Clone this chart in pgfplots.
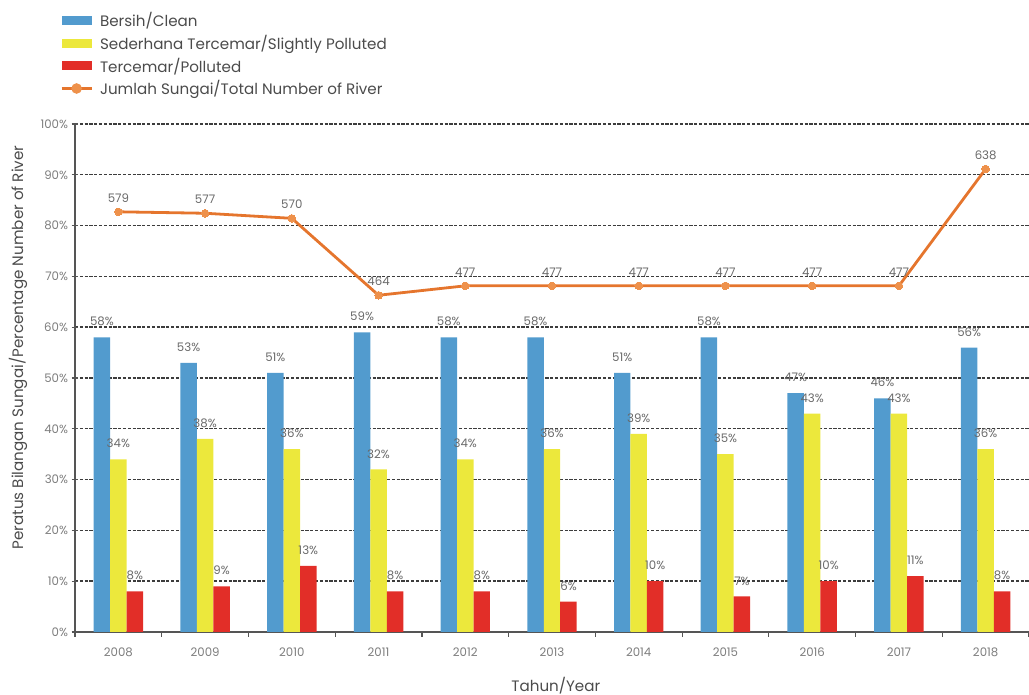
\documentclass[border=0pt]{standalone}
\usepackage{fontspec}
\setmainfont{Poppins}
\usepackage{pgfplots}
\pgfplotsset{compat=1.18}
\usepackage{pgfplotstable}

\definecolor{clean}{RGB}{82,155,206}
\definecolor{slight}{RGB}{236,232,60}
\definecolor{polluted}{RGB}{226,46,40}
\definecolor{lineorange}{RGB}{229,117,45}
\definecolor{markorange}{RGB}{238,145,75}
\definecolor{axisgray}{RGB}{85,85,85}
\definecolor{gridgray}{RGB}{60,60,60}
\definecolor{tickgray}{RGB}{125,125,125}
\definecolor{labelgray}{RGB}{105,105,105}
\definecolor{titlegray}{RGB}{75,75,75}

% River water quality by year (percent of rivers) and number of rivers monitored
\pgfplotstableread{
idx year clean slight polluted total
0  2008 58 34 8  579
1  2009 53 38 9  577
2  2010 51 36 13 570
3  2011 59 32 8  464
4  2012 58 34 8  477
5  2013 58 36 6  477
6  2014 51 39 10 477
7  2015 58 35 7  477
8  2016 47 43 10 477
9  2017 46 43 11 477
10 2018 56 36 8  638
}\rivers

\pgfplotsset{
  barleg/.style={legend image code/.code={\fill[##1] (0bp,-4.5bp) rectangle (30bp,4.5bp);}},
  lineleg/.style={legend image code/.code={%
      \draw[##1] (0bp,0bp) -- (30bp,0bp);
      \fill[markorange] (15bp,0bp) circle (3.8bp);}},
  frame/.style={
    at={(0,0)}, anchor=south west,
    width=954bp, height=508bp, scale only axis,
    xmin=-0.5, xmax=10.5,
    /pgf/number format/assume math mode=true,
  },
}

\newcommand\smalltxt{\fontsize{11.8}{13}\selectfont}
\newcommand\bigtxt{\fontsize{15.2}{18}\selectfont}

\begin{document}
\begin{tikzpicture}[x=1bp,y=1bp]
\useasboundingbox (-75,-63) rectangle (954,632);

\begin{axis}[
  frame,
  ymin=0, ymax=100,
  ybar=0pt, bar width=0.19,
  axis x line=bottom, axis y line=left,
  axis line style={draw=axisgray, line width=1.3bp, -},
  xtick={0,...,10},
  xticklabels={2008,2009,2010,2011,2012,2013,2014,2015,2016,2017,2018},
  major x tick style={draw=none},
  minor xtick={-0.5,0.5,...,10.5},
  minor x tick style={draw=axisgray, line width=1.2bp},
  minor tick length=5bp,
  xtick align=outside,
  xticklabel style={font=\smalltxt, text=tickgray, yshift=-5bp},
  ytick={0,10,...,100},
  yticklabel={\pgfmathprintnumber{\tick}\%},
  yticklabel style={font=\smalltxt, text=tickgray},
  ytick align=center,
  major tick length=7bp,
  major y tick style={draw=axisgray, line width=1.2bp},
  ymajorgrids,
  major grid style={draw=gridgray, line width=1.4bp, dash pattern=on 3.2bp off 1.6bp},
  ylabel={Peratus Bilangan Sungai/Percentage Number of River},
  ylabel style={font=\bigtxt, text=titlegray, at={(axis description cs:-0.0597,0.56)}, anchor=center},
  xlabel={Tahun/Year},
  xlabel style={font=\bigtxt, text=titlegray, at={(axis description cs:0.504,-0.106)}, anchor=center},
  nodes near coords={\pgfmathprintnumber{\pgfplotspointmeta}\%},
  every node near coord/.append style={font=\smalltxt, text=labelgray, inner sep=2bp, yshift=9bp},
  legend style={at={(-0.0157,1.224)}, anchor=north west, draw=none, fill=none,
    font=\bigtxt, text=titlegray, row sep=3bp, column sep=5bp, inner sep=0pt},
  legend cell align=left,
]
\addplot[fill=clean, draw=none, barleg] table[x=idx, y=clean] {\rivers};
\addlegendentry{Bersih/Clean}
\addplot[fill=slight, draw=none, barleg] table[x=idx, y=slight] {\rivers};
\addlegendentry{Sederhana Tercemar/Slightly Polluted}
\addplot[fill=polluted, draw=none, barleg] table[x=idx, y=polluted] {\rivers};
\addlegendentry{Tercemar/Polluted}
\addlegendimage{lineorange, line width=2.8bp, lineleg}
\addlegendentry{Jumlah Sungai/Total Number of River}
\end{axis}

% number of rivers, on a 0--700 scale sharing the same frame
\begin{axis}[
  frame,
  ymin=0, ymax=700,
  hide axis,
]
\addplot[lineorange, line width=2.8bp, mark=*, mark size=3.8bp,
  mark options={fill=markorange, draw=markorange, line width=0pt},
  nodes near coords,
  every node near coord/.append style={font=\smalltxt, text=labelgray, yshift=6bp}]
  table[x=idx, y=total] {\rivers};
\end{axis}
\end{tikzpicture}
\end{document}
